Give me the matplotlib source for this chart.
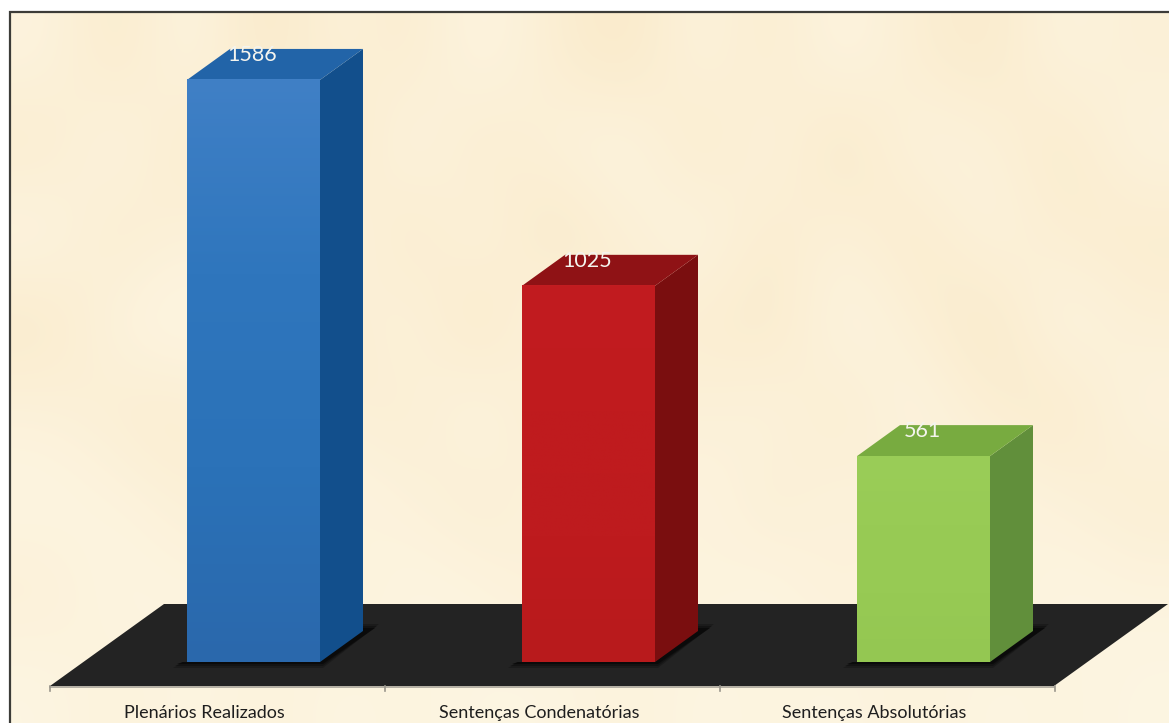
import numpy as np
import matplotlib
matplotlib.use("Agg")
import matplotlib.pyplot as plt
from matplotlib.patches import Polygon
from matplotlib.colors import LinearSegmentedColormap

categories = ["Plenários Realizados", "Sentenças Condenatórias", "Sentenças Absolutórias"]
values = [1586, 1025, 561]

front_stops = [["#4080C6", "#2F76BD", "#2B72B8", "#2A68AC"],
               ["#C21C20", "#C01B1E", "#BE1B1E", "#B81A1C"],
               ["#9ACD58", "#98CB55", "#97CA54", "#94C752"]]
top_colors = ["#2264A8", "#8F1215", "#78AB40"]
side_colors = ["#124F8C", "#7A0E0F", "#618F3B"]

W, H = 1169, 723
PX_X = 335.0           # pixels per category
PX_Y = 0.367           # pixels per value unit
X0_PX, Y0_PX = 253.5, 662.0

fig = plt.figure(figsize=(W / 100, H / 100), dpi=100, facecolor="white")
ax = fig.add_axes([0, 0, 1, 1])
ax.axis("off")

dx = lambda p: p / PX_X
dy = lambda p: p / PX_Y
xp = lambda p: (p - X0_PX) / PX_X
yp = lambda p: (Y0_PX - p) / PX_Y

# panel background: soft parchment mottling
mottle = np.array([
    [.3, .8, .2, .9, .4, .7, .2, .6, .9, .3, .7, .2, .6, .8, .3, .5],
    [.7, .2, .8, .3, .9, .2, .7, .4, .2, .8, .3, .9, .3, .4, .8, .3],
    [.2, .7, .4, .6, .2, .8, .3, .9, .5, .2, .7, .4, .8, .3, .6, .7],
    [.8, .3, .1, .5, .7, .3, .9, .2, .7, .6, .8, .2, .5, .9, .2, .5],
    [.4, .6, .7, .2, .5, .6, .2, .7, .3, .5, .3, .7, .2, .6, .8, .3],
    [.2, .3, .5, .6, .2, .4, .6, .3, .6, .2, .6, .3, .6, .2, .4, .6],
    [.5, .2, .3, .2, .5, .2, .3, .5, .2, .4, .2, .5, .2, .5, .2, .3],
    [.2, .4, .2, .4, .2, .3, .2, .2, .4, .2, .3, .2, .4, .2, .3, .2],
])
cream = LinearSegmentedColormap.from_list("cream", ["#FEF9EA", "#F9E7C3"])
ax.imshow(mottle, cmap=cream, vmin=0, vmax=1, interpolation="bicubic", aspect="auto",
          extent=(xp(10), xp(W), yp(H), yp(12)), zorder=0)
ax.plot([xp(10), xp(10), xp(W)], [yp(H), yp(12), yp(12)], color="#3C3C38", lw=1.6,
        zorder=1, solid_joinstyle="miter")

# floor
ax.add_patch(Polygon([(xp(50), yp(686)), (xp(1054), yp(686)), (xp(1168), yp(604)), (xp(164), yp(604))],
                     closed=True, fc="#232323", ec="none", zorder=2))
ax.plot([xp(50), xp(1054)], [yp(686.5), yp(686.5)], color="#A8A49A", lw=1.2, zorder=3)
for k in range(len(categories) + 1):
    t = k - 0.5 - 36 / PX_X
    ax.plot([t, t], [yp(686), yp(691)], color="#9A968C", lw=1.2, zorder=3)

half = 133 / PX_X / 2
depth_x, depth_y = dx(43), dy(31)

for i, (v, c) in enumerate(zip(values, categories)):
    l, r = i - half, i + half
    # contact shadow on the floor
    for grow, a in ((4, .3), (2, .45), (0, .9)):
        ax.add_patch(Polygon([(l - dx(10 + grow), -dy(2 + grow)), (r + dx(3), -dy(2 + grow)),
                              (r + depth_x + dx(12 + grow), depth_y + dy(3 + grow)),
                              (r + depth_x, depth_y + dy(3 + grow)), (r, 0), (l - dx(4), 0)],
                             closed=True, fc="#0A0A0A", ec="none", alpha=a, zorder=3))
    # side and top faces
    ax.add_patch(Polygon([(r, 0), (r + depth_x, depth_y), (r + depth_x, v + depth_y), (r, v)],
                         closed=True, fc=side_colors[i], ec="none", zorder=4))
    ax.add_patch(Polygon([(l, v), (r, v), (r + depth_x, v + depth_y), (l + depth_x, v + depth_y)],
                         closed=True, fc=top_colors[i], ec="none", zorder=4))
    # front face
    cmap = LinearSegmentedColormap.from_list(f"f{i}", front_stops[i])
    ax.imshow(np.linspace(0, 1, 256)[:, None], cmap=cmap, aspect="auto",
              extent=(l, r, 0, v), zorder=5)
    # value and category labels
    ax.text(i - dx(1), v + dy(25), str(v), color="#F4F4EE", fontsize=15.5, family="Lato",
            ha="center", va="center", zorder=6)
    ax.text(i - dx(49), yp(713), c, color="#1E1E1E", fontsize=13, family="Lato",
            ha="center", va="center", zorder=6)

ax.set_xlim(-X0_PX / PX_X, (W - X0_PX) / PX_X)
ax.set_ylim(-(H - Y0_PX) / PX_Y, Y0_PX / PX_Y)
fig.savefig("out.png", dpi=100)
